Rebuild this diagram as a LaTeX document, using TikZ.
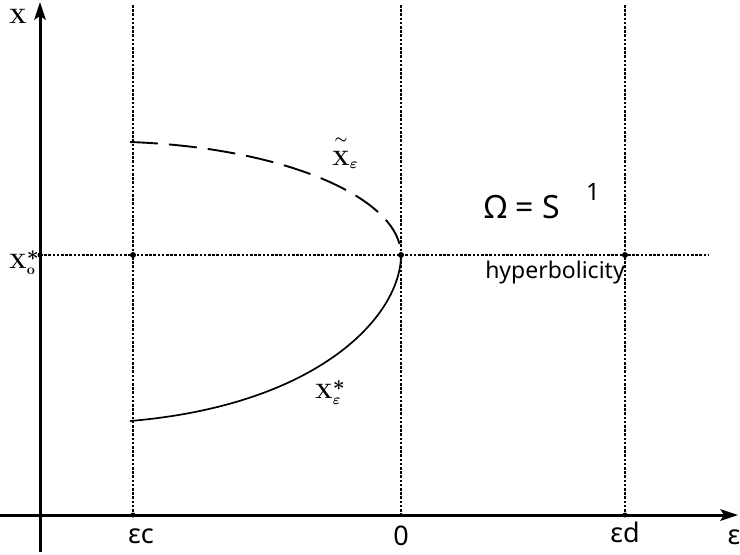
\documentclass[tikz,border=0pt]{standalone}
\usepackage{fontspec}
\usepackage{amsmath,amssymb}
\newfontfamily\hand{Noto Sans}
\begin{document}
\begin{tikzpicture}[x=1pt,y=-1pt,
  axline/.style={line width=3pt},
  arrowhead/.style={fill=black},
  dotline/.style={line width=2.8pt,dash pattern=on 2.6pt off 1.6pt},
  solidcurve/.style={line width=1.7pt},
  dashedcurve/.style={line width=1.9pt,dash pattern=on 28pt off 11pt},
  dotpt/.style={circle,fill=black,inner sep=0pt,minimum size=6pt},
  lab/.style={font=\hand\fontsize{27}{29}\selectfont},
  xlab/.style={font=\fontsize{22}{24}\selectfont\boldmath,inner sep=0pt,anchor=base west}]
\useasboundingbox (0,0) rectangle (740,555);
% coordinates
\coordinate (ytop) at (40,2);
\coordinate (ybot) at (40,552);
\coordinate (yend) at (40,14);
\coordinate (xl) at (0,515);
\coordinate (xr) at (738,515);
\coordinate (xend) at (726,515);
\coordinate (ct) at (133,5);   \coordinate (cb) at (133,515);
\coordinate (zt) at (401,5);   \coordinate (zb) at (401,515);
\coordinate (dt) at (625,5);   \coordinate (db) at (625,515);
\coordinate (hl) at (40,255);  \coordinate (hr) at (708,255);
\coordinate (up) at (130,142);
\coordinate (lo) at (130,421);
\coordinate (v) at (401,255);
% dotted lines
\draw[dotline] (ct) -- (cb);
\draw[dotline] (zt) -- (zb);
\draw[dotline] (dt) -- (db);
\draw[dotline] (hl) -- (hr);
% axes
\draw[axline] (ybot) -- (yend);
\fill[arrowhead] (ytop) -- ++(-6,18) -- ++(6,-4) -- ++(6,4) -- cycle;
\draw[axline] (xl) -- (xend);
\fill[arrowhead] (xr) -- ++(-18,-6) -- ++(4,6) -- ++(-4,6) -- cycle;
% intersection points
\node[dotpt] (p1) at (133,255) {};
\node[dotpt] (p2) at (v) {};
\node[dotpt] (p3) at (625,255) {};
\node[dotpt,minimum size=5pt] (p4) at (40,255) {};
\node[dotpt,minimum size=5pt] (p5) at (133,515) {};
\node[dotpt,minimum size=5pt] (p6) at (625,515) {};
% curves
\draw[dashedcurve] (up) .. controls (290,148) and (401,200) .. (v);
\draw[solidcurve] (v) .. controls (401,315) and (320,405) .. (lo);
% labels
\node[xlab] (lx) at (9,23) {$\mathbf{X}$};
\node[xlab] (lx0) at (9,268) {$\mathbf{X}^{\textstyle *}_{\mathbf{o}}$};
\node[xlab] (lxt) at (332,165) {$\overset{\raisebox{3pt}{$\scriptstyle\sim$}}{\mathbf{X}}_{\varepsilon}$};
\node[xlab] (lxs) at (315,398) {$\mathbf{X}^{\textstyle *}_{\varepsilon}$};
\node[font=\hand\fontsize{32}{34}\selectfont] (om) at (522,207) {Ω = S};
\node[font=\hand\fontsize{24}{26}\selectfont] (one) at (593,192) {1};
\node[font=\hand\fontsize{23}{25}\selectfont,text depth=0pt] (hyp) at (555,270) {hyperbolicity};
\node[lab] (ec) at (141,536) {εc};
\node[lab] (e0) at (401,536) {0};
\node[lab] (ed) at (625,532) {εd};
\node[lab] (ee) at (734,537) {ε};
\end{tikzpicture}
\end{document}
